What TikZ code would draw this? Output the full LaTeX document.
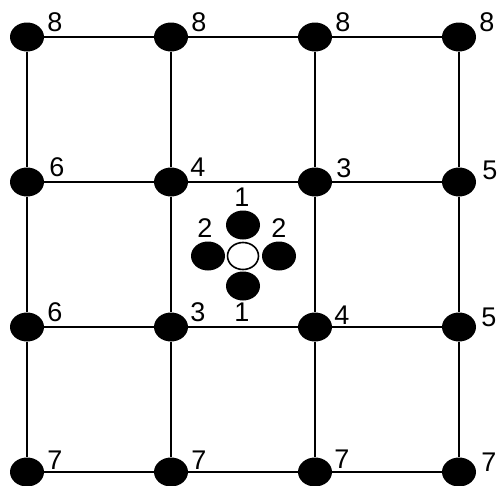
\documentclass[tikz,border=0pt]{standalone}
\usepackage{fontspec}
\setmainfont{Liberation Sans}
\usetikzlibrary{shapes.geometric}
\begin{document}
\begin{tikzpicture}[x=1pt,y=-1pt,
  dot/.style={ellipse,fill=black,draw=none,minimum width=34pt,minimum height=29pt,inner sep=0pt},
  hollow/.style={ellipse,fill=white,draw=black,line width=1.6pt,minimum width=31pt,minimum height=27pt,inner sep=0pt},
  lab/.style={font=\fontsize{27}{27}\selectfont,inner sep=0pt,anchor=center},
  edge/.style={line width=2pt}]
\useasboundingbox (0,0) rectangle (498,485);
% grid nodes
\foreach \c/\x in {1/27,2/171,3/315,4/459}{
  \foreach \r/\y in {1/37,2/182,3/327,4/472}{
    \node[dot] (n\r\c) at (\x,\y) {};
  }
}
% edges
\foreach \r in {1,2,3,4}{
  \draw[edge] (n\r1) -- (n\r2) -- (n\r3) -- (n\r4);
}
\foreach \c in {1,2,3,4}{
  \draw[edge] (n1\c) -- (n2\c) -- (n3\c) -- (n4\c);
}
% center cluster
\node[hollow] (ctr) at (243,256) {};
\node[dot] (ct) at (243,225) {};
\node[dot] (cl) at (208,256) {};
\node[dot] (cr) at (279,256) {};
\node[dot] (cb) at (243,286) {};
% labels row 1
\node[lab] (l11) at (55,22) {8};
\node[lab] (l12) at (199,22) {8};
\node[lab] (l13) at (343,22) {8};
\node[lab] (l14) at (487,22) {8};
% row 2
\node[lab] (l21) at (57,167) {6};
\node[lab] (l22) at (198,167) {4};
\node[lab] (l23) at (344,168) {3};
\node[lab] (l24) at (490,170) {5};
% row 3
\node[lab] (l31) at (55,312) {6};
\node[lab] (l32) at (198,312) {3};
\node[lab] (l33) at (342,315) {4};
\node[lab] (l34) at (489,317) {5};
% row 4
\node[lab] (l41) at (55,460) {7};
\node[lab] (l42) at (199,460) {7};
\node[lab] (l43) at (342,459) {7};
\node[lab] (l44) at (489,462) {7};
% center labels
\node[lab] (lt) at (242,197) {1};
\node[lab] (ll) at (205,228) {2};
\node[lab] (lr) at (279,228) {2};
\node[lab] (lb) at (242,312) {1};
\end{tikzpicture}
\end{document}
